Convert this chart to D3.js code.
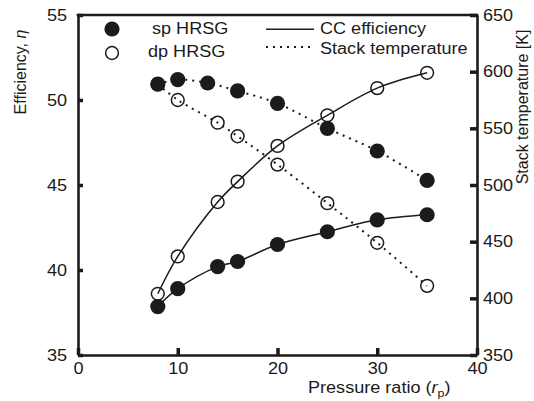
<!DOCTYPE html>
<html>
<head>
<meta charset="utf-8">
<script src="https://cdn.jsdelivr.net/npm/d3@7"></script>
<style>
  body { margin: 0; background: #fff; }
  svg text { font-family: "Liberation Sans", Arial, sans-serif; font-size: 16px; fill: #1c1a1a; }
  .wide { transform-box: fill-box; transform: scaleX(1.13); }
  .wide-l { transform-origin: left center; }
  .wide-r { transform-origin: right center; }
  .wide-c { transform-origin: center center; }
</style>
</head>
<body>
<div id="okvir"></div>
<script>
// podaci ocitani sa slike
const spEffX = [8, 10, 14, 16, 20, 25, 30, 35]
const spEff = [37.85, 38.9, 40.2, 40.5, 41.5, 42.25, 42.95, 43.25]
const dpEffX = [8, 10, 14, 16, 20, 25, 30, 35]
const dpEff = [38.6, 40.8, 44.0, 45.2, 47.3, 49.1, 50.7, 51.6]
const spStackX = [8, 10, 13, 16, 20, 25, 30, 35]
const spStack = [589, 593, 590, 583, 572, 550, 530, 504]
const dpStackX = [8, 10, 14, 16, 20, 25, 30, 35]
const dpStack = [589, 575, 555, 543, 518, 484, 449, 411]

const xTicks = [0, 10, 20, 30, 40]
const effTicks = [35, 40, 45, 50, 55]
const stackTicks = [350, 400, 450, 500, 550, 600, 650]

const boja = "#1c1a1a"

const dimenzije = { sirina: 534, visina: 401, lijevo: 78, desno: 477, gore: 15, dolje: 355 }

const okvir = d3.select("#okvir")
  .append("svg")
    .attr("width", dimenzije.sirina)
    .attr("height", dimenzije.visina)

const xSkala = d3.scaleLinear().domain([0, 40]).range([dimenzije.lijevo, dimenzije.desno])
const effSkala = d3.scaleLinear().domain([35, 55]).range([dimenzije.dolje, dimenzije.gore])
const stackSkala = d3.scaleLinear().domain([350, 650]).range([dimenzije.dolje, dimenzije.gore])

const spoji = (xs, ys) => xs.map((x, i) => ({ x: x, y: ys[i] }))

// linije
const linija = skala => d3.line()
  .x(d => xSkala(d.x))
  .y(d => skala(d.y))
  .curve(d3.curveCatmullRom.alpha(0.5))

const crte = okvir.append("g").attr("fill", "none").attr("stroke", boja)

crte.append("path")
    .attr("d", linija(effSkala)(spoji(spEffX, spEff)))
    .attr("stroke-width", 1.5)
crte.append("path")
    .attr("d", linija(effSkala)(spoji(dpEffX, dpEff)))
    .attr("stroke-width", 1.5)
crte.append("path")
    .attr("d", linija(stackSkala)(spoji(spStackX, spStack)))
    .attr("stroke-width", 2)
    .attr("stroke-dasharray", "2,5")
crte.append("path")
    .attr("d", linija(stackSkala)(spoji(dpStackX, dpStack)))
    .attr("stroke-width", 2)
    .attr("stroke-dasharray", "2,5")

// markeri: prazni pa puni
const prazni = [
  ...spoji(dpEffX, dpEff).map(d => ({ cx: xSkala(d.x), cy: effSkala(d.y) })),
  ...spoji(dpStackX, dpStack).map(d => ({ cx: xSkala(d.x), cy: stackSkala(d.y) })),
]
const puni = [
  ...spoji(spEffX, spEff).map(d => ({ cx: xSkala(d.x), cy: effSkala(d.y) })),
  ...spoji(spStackX, spStack).map(d => ({ cx: xSkala(d.x), cy: stackSkala(d.y) })),
]

okvir.append("g").selectAll("circle")
  .data(prazni)
  .join("circle")
    .attr("cx", d => d.cx)
    .attr("cy", d => d.cy)
    .attr("r", 6.4)
    .attr("fill", "none")
    .attr("stroke", boja)
    .attr("stroke-width", 1.5)

okvir.append("g").selectAll("circle")
  .data(puni)
  .join("circle")
    .attr("cx", d => d.cx)
    .attr("cy", d => d.cy)
    .attr("r", 7.6)
    .attr("fill", boja)

// osi
const stilOsi = g => {
  g.select(".domain").attr("stroke", boja).attr("stroke-width", 2.6)
  g.selectAll(".tick line").attr("stroke", boja).attr("stroke-width", 3.5)
  g.selectAll(".tick text").attr("fill", boja).style("font-size", "16px")
    .style("font-family", "'Liberation Sans', Arial, sans-serif")
}

okvir.append("line")
    .attr("x1", dimenzije.lijevo - 1.3)
    .attr("x2", dimenzije.desno + 1.3)
    .attr("y1", dimenzije.gore)
    .attr("y2", dimenzije.gore)
    .attr("stroke", boja)
    .attr("stroke-width", 2.6)

const xOs = okvir.append("g")
    .attr("transform", `translate(0,${dimenzije.dolje})`)
    .call(d3.axisBottom(xSkala).tickValues(xTicks).tickSizeInner(-7).tickSizeOuter(0).tickPadding(8))
    .call(stilOsi)
xOs.selectAll(".tick text").attr("class", "wide wide-c")

const yOs = okvir.append("g")
    .attr("transform", `translate(${dimenzije.lijevo},0)`)
    .call(d3.axisLeft(effSkala).tickValues(effTicks).tickSizeInner(-5).tickSizeOuter(0).tickPadding(11))
    .call(stilOsi)
yOs.selectAll(".tick text").attr("class", "wide wide-r")

const y2Os = okvir.append("g")
    .attr("transform", `translate(${dimenzije.desno},0)`)
    .call(d3.axisRight(stackSkala).tickValues(stackTicks).tickSizeInner(-7).tickSizeOuter(0).tickPadding(6))
    .call(stilOsi)
y2Os.selectAll(".tick text").attr("class", "wide wide-l")

// oznake osi
const xOznaka = okvir.append("text")
    .attr("class", "wide wide-l")
    .attr("x", 308)
    .attr("y", 393.5)
xOznaka.append("tspan").text("Pressure ratio (")
xOznaka.append("tspan").attr("font-style", "italic").text("r")
xOznaka.append("tspan").attr("font-size", "11px").attr("dy", 4).text("p")
xOznaka.append("tspan").attr("dy", -4).text(")")

const yOznaka = okvir.append("text")
    .attr("transform", "translate(26,72) rotate(-90)")
    .attr("text-anchor", "middle")
yOznaka.append("tspan").text("Efficiency, ")
yOznaka.append("tspan").attr("font-style", "italic").text("η")

okvir.append("text")
    .attr("transform", "translate(528,107) rotate(-90)")
    .attr("text-anchor", "middle")
    .text("Stack temperature [K]")

// legenda
okvir.append("circle").attr("cx", 112).attr("cy", 29).attr("r", 7.6).attr("fill", boja)
okvir.append("circle").attr("cx", 112).attr("cy", 53).attr("r", 6.4)
    .attr("fill", "none").attr("stroke", boja).attr("stroke-width", 1.5)
okvir.append("text").attr("class", "wide wide-l").attr("x", 152).attr("y", 34).text("sp HRSG")
okvir.append("text").attr("class", "wide wide-l").attr("x", 148).attr("y", 57).text("dp HRSG")

okvir.append("line").attr("x1", 266).attr("x2", 314).attr("y1", 29.3).attr("y2", 29.3)
    .attr("stroke", boja).attr("stroke-width", 1.5)
okvir.append("line").attr("x1", 266).attr("x2", 314).attr("y1", 47).attr("y2", 47)
    .attr("stroke", boja).attr("stroke-width", 2).attr("stroke-dasharray", "2,5")
okvir.append("text").attr("class", "wide wide-l").attr("x", 320).attr("y", 34).text("CC efficiency")
okvir.append("text").attr("class", "wide wide-l").attr("x", 320).attr("y", 54).text("Stack temperature")
</script>
</body>
</html>
